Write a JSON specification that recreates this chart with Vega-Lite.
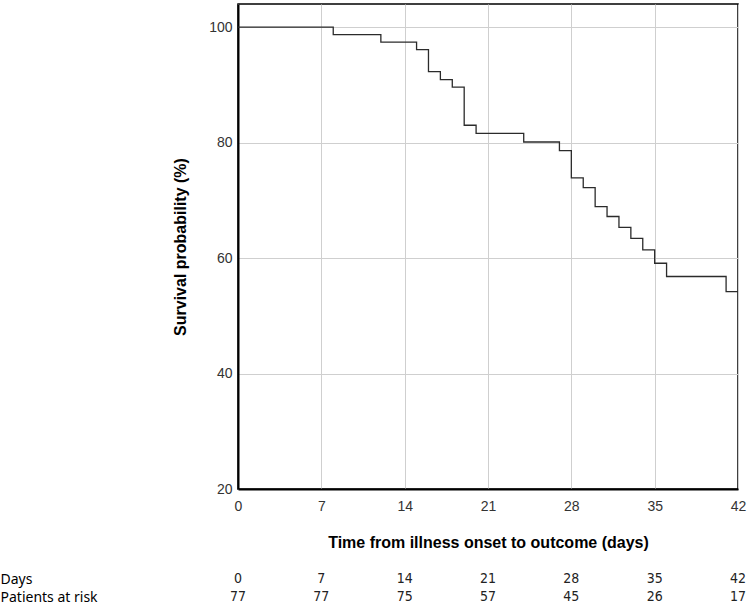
{
  "$schema": "https://vega.github.io/schema/vega-lite/v6.json",
  "padding": {"left": 0, "top": 3, "right": 4, "bottom": 0},
  "background": "white",
  "spacing": 19,
  "config": {
    "font": "Liberation Sans",
    "view": {"stroke": "#000000", "strokeWidth": 1.5}
  },
  "vconcat": [
    {
      "width": 500,
      "height": 485,
      "data": {
        "values": [
          {"day": 0, "survival": 100},
          {"day": 8, "survival": 98.7},
          {"day": 12, "survival": 97.4},
          {"day": 15, "survival": 96.1},
          {"day": 16, "survival": 92.3},
          {"day": 17, "survival": 90.9},
          {"day": 18, "survival": 89.6},
          {"day": 19, "survival": 83.0},
          {"day": 20, "survival": 81.6},
          {"day": 24, "survival": 80.1},
          {"day": 27, "survival": 78.6},
          {"day": 28, "survival": 73.9},
          {"day": 29, "survival": 72.2},
          {"day": 30, "survival": 68.9},
          {"day": 31, "survival": 67.2},
          {"day": 32, "survival": 65.3},
          {"day": 33, "survival": 63.4},
          {"day": 34, "survival": 61.4},
          {"day": 35, "survival": 59.1},
          {"day": 36, "survival": 56.8},
          {"day": 41, "survival": 54.2},
          {"day": 42, "survival": 54.2}
        ]
      },
      "mark": {"type": "line", "interpolate": "step-after", "color": "#2b2b2b", "strokeWidth": 1.3, "clip": true},
      "encoding": {
        "x": {
          "field": "day",
          "type": "quantitative",
          "scale": {"domain": [0, 42], "nice": false, "zero": false},
          "axis": {
            "values": [0, 7, 14, 21, 28, 35, 42],
            "title": "Time from illness onset to outcome (days)",
            "titleFont": "Liberation Sans",
            "titleFontSize": 16,
            "titleFontWeight": "bold",
            "titleColor": "#000000",
            "titlePadding": 21,
            "labelFont": "Liberation Sans",
            "labelFontSize": 14,
            "labelColor": "#333333",
            "labelPadding": 10,
            "ticks": false,
            "tickSize": 0,
            "domainColor": "#000000",
            "domainWidth": 2,
            "grid": true,
            "gridColor": "#cfcfcf",
            "gridWidth": 1,
            "labelFlush": false
          }
        },
        "y": {
          "field": "survival",
          "type": "quantitative",
          "scale": {"domain": [20, 104], "nice": false, "zero": false},
          "axis": {
            "values": [20, 40, 60, 80, 100],
            "title": "Survival probability (%)",
            "titleFont": "Liberation Sans",
            "titleFontSize": 16,
            "titleFontWeight": "bold",
            "titleColor": "#000000",
            "titlePadding": 20,
            "labelFont": "Liberation Sans",
            "labelFontSize": 14,
            "labelColor": "#333333",
            "labelPadding": 6,
            "ticks": false,
            "tickSize": 0,
            "domainColor": "#000000",
            "domainWidth": 2,
            "grid": true,
            "gridColor": "#cfcfcf",
            "gridWidth": 1,
            "labelFlush": false
          }
        }
      }
    },
    {
      "width": 500,
      "height": 36,
      "view": {"stroke": null},
      "data": {
        "values": [
          {"day": 0, "row": "Days", "value": "0"},
          {"day": 7, "row": "Days", "value": "7"},
          {"day": 14, "row": "Days", "value": "14"},
          {"day": 21, "row": "Days", "value": "21"},
          {"day": 28, "row": "Days", "value": "28"},
          {"day": 35, "row": "Days", "value": "35"},
          {"day": 42, "row": "Days", "value": "42"},
          {"day": 0, "row": "Patients at risk", "value": "77"},
          {"day": 7, "row": "Patients at risk", "value": "77"},
          {"day": 14, "row": "Patients at risk", "value": "75"},
          {"day": 21, "row": "Patients at risk", "value": "57"},
          {"day": 28, "row": "Patients at risk", "value": "45"},
          {"day": 35, "row": "Patients at risk", "value": "26"},
          {"day": 42, "row": "Patients at risk", "value": "17"}
        ]
      },
      "mark": {"type": "text", "font": "DejaVu Sans Condensed, Liberation Sans, sans-serif", "fontSize": 14, "color": "#222222", "baseline": "middle", "align": "center"},
      "encoding": {
        "x": {
          "field": "day",
          "type": "quantitative",
          "scale": {"domain": [0, 42], "nice": false, "zero": false},
          "axis": null
        },
        "y": {
          "field": "row",
          "type": "nominal",
          "sort": ["Days", "Patients at risk"],
          "axis": {
            "title": null,
            "domain": false,
            "ticks": false,
            "tickSize": 0,
            "labelAlign": "left",
            "labelPadding": 238,
            "labelFont": "Noto Sans",
            "labelFontSize": 14,
            "labelColor": "#000000"
          }
        },
        "text": {"field": "value", "type": "nominal"}
      }
    }
  ]
}
